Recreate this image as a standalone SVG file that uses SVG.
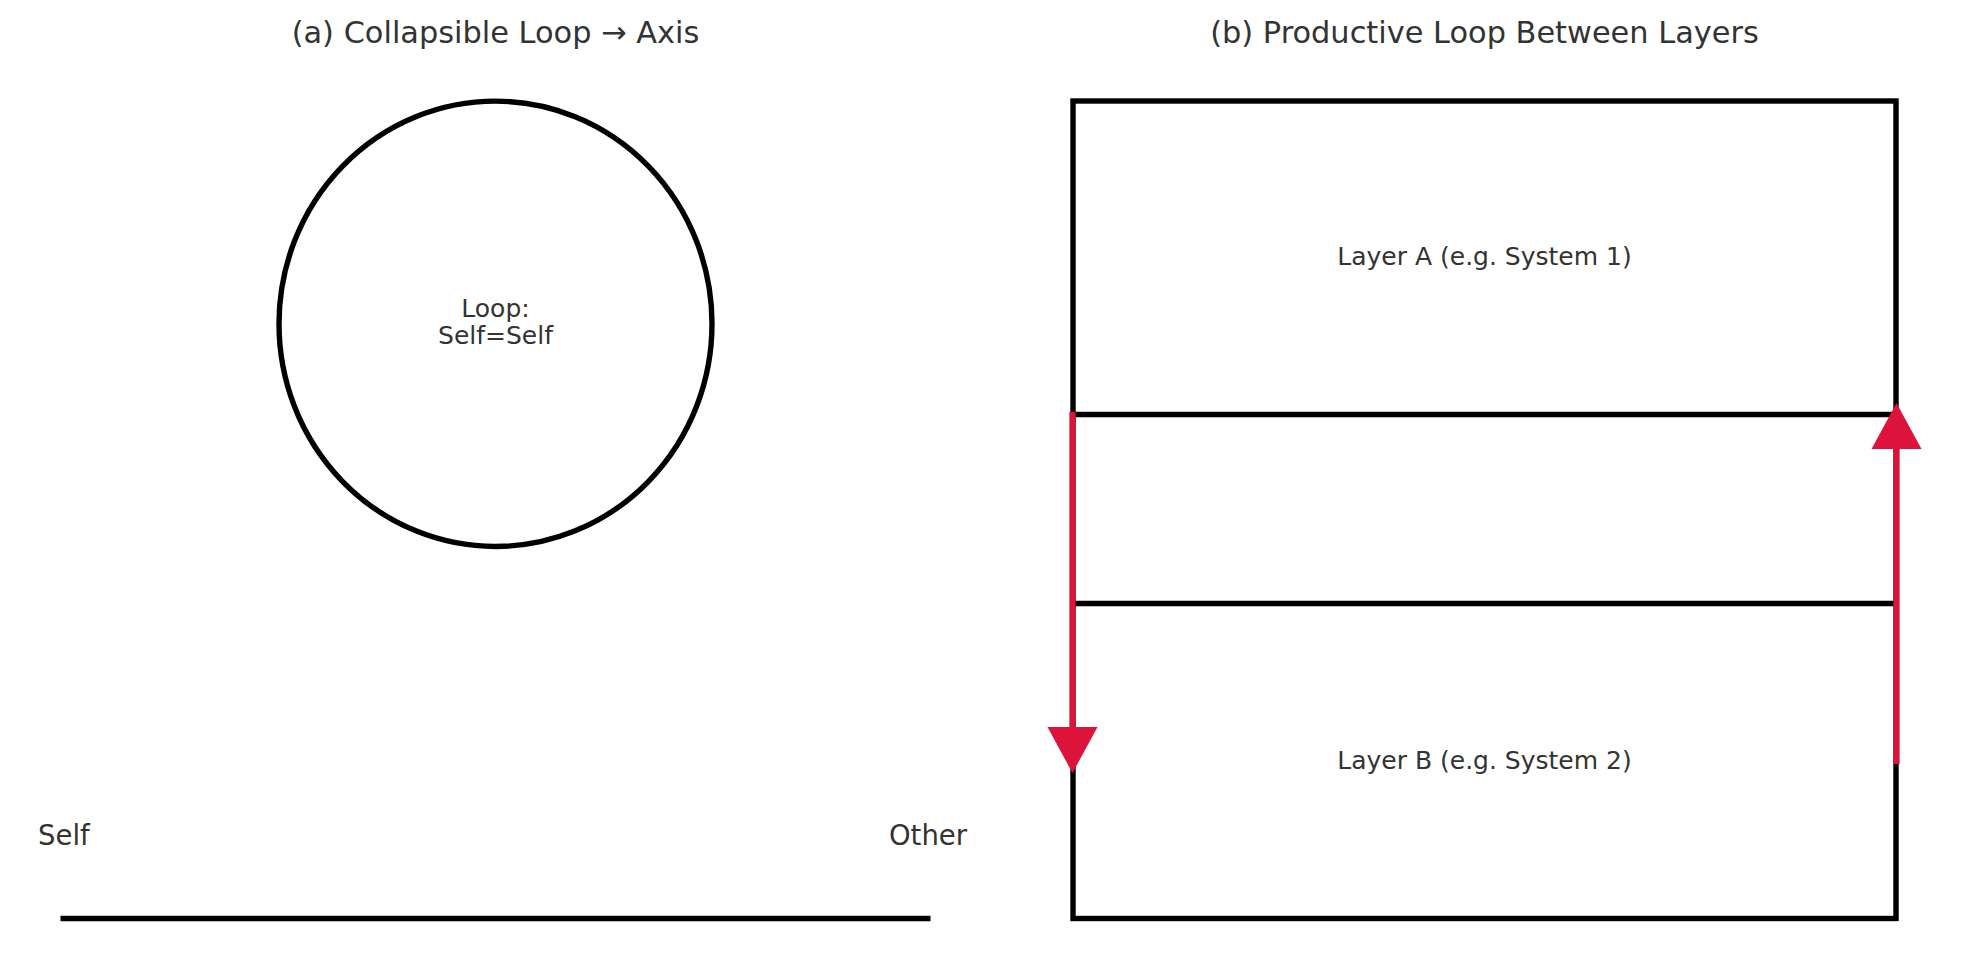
<svg xmlns="http://www.w3.org/2000/svg" width="1979" height="980" viewBox="0 0 1979 980">
<style>
text{font-family:"DejaVu Sans","Liberation Sans",sans-serif;fill:#333333;}
.title{font-size:30.4px;text-anchor:middle;}
.lbl{font-size:25px;text-anchor:middle;}
.ax{font-size:27.5px;}
.blk{fill:none;stroke:#000000;stroke-width:5.4;}
.red{fill:none;stroke:#DC143C;stroke-width:6.3;}
.head{fill:#DC143C;stroke:none;}
</style>
<rect width="1979" height="980" fill="#ffffff"/>
<text class="title" x="495.5" y="43">(a) Collapsible Loop → Axis</text>
<text class="title" x="1484.5" y="43">(b) Productive Loop Between Layers</text>
<g id="loop">
<ellipse class="blk" cx="495.5" cy="323.8" rx="216.5" ry="222.7"/>
<text class="lbl" x="495.5" y="316.5">Loop:</text>
<text class="lbl" x="495.5" y="344">Self=Self</text>
</g>
<g id="axis">
<line class="blk" x1="60.5" y1="918.5" x2="930.5" y2="918.5"/>
<text class="ax" x="38" y="845">Self</text>
<text class="ax" x="928" y="845" text-anchor="middle">Other</text>
</g>
<g id="layers">
<rect class="blk" x="1073" y="101" width="823" height="817.5"/>
<line class="blk" x1="1073" y1="414.5" x2="1896" y2="414.5"/>
<line class="blk" x1="1073" y1="603.5" x2="1896" y2="603.5"/>
</g>
<g id="layerA"><text class="lbl" x="1484.5" y="265">Layer A (e.g. System 1)</text></g>
<g id="layerB"><text class="lbl" x="1484.5" y="769">Layer B (e.g. System 2)</text></g>
<g id="connectors">
<line class="red" x1="1072.5" y1="412" x2="1072.5" y2="730"/>
<polygon class="head" points="1047.5,727 1097.5,727 1072.5,773"/>
<line class="red" x1="1896.5" y1="764" x2="1896.5" y2="446"/>
<polygon class="head" points="1871.5,449 1921.5,449 1896.5,403"/>
</g>
</svg>
